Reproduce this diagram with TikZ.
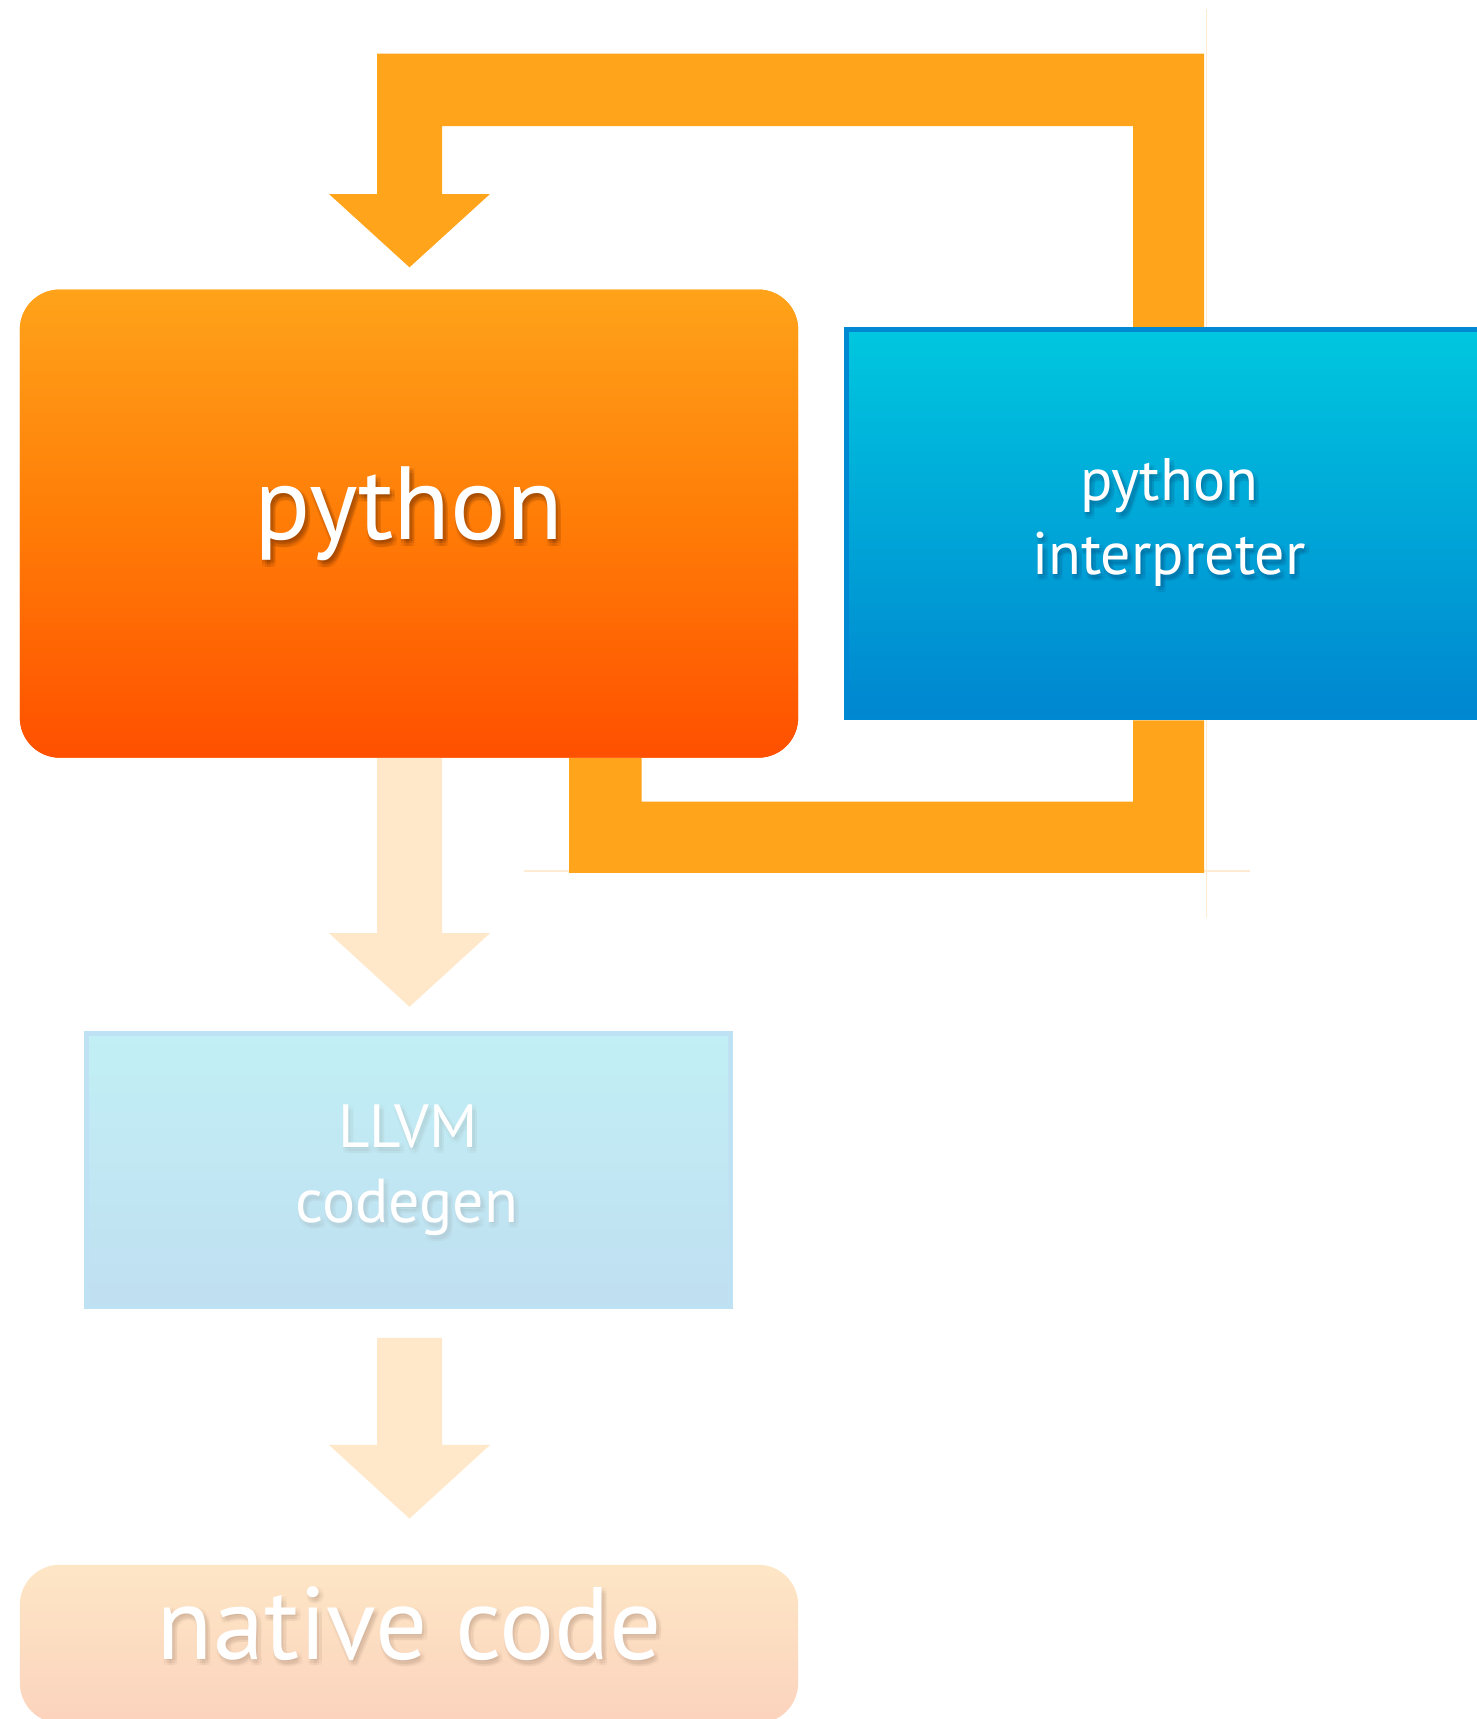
\documentclass[tikz,border=0pt]{standalone}
\usepackage{fontspec}
\setmainfont{PT Sans}
\usetikzlibrary{calc}

\definecolor{loopOrange}{HTML}{FFA41B}
\definecolor{paleArrow}{HTML}{FFE8C9}
\definecolor{guide}{HTML}{FFEBD3}
\definecolor{pyTop}{HTML}{FFA31A}
\definecolor{pyMid}{HTML}{FF7C07}
\definecolor{pyBot}{HTML}{FF5000}
\definecolor{interpTop}{HTML}{00C7DF}
\definecolor{interpBot}{HTML}{0086D0}
\definecolor{interpEdge}{HTML}{0089D2}
\definecolor{llvmTop}{HTML}{C1EFF5}
\definecolor{llvmBot}{HTML}{C0DFF1}
\definecolor{llvmEdge}{HTML}{BEE1F3}
\definecolor{natTop}{HTML}{FDE6C5}
\definecolor{natBot}{HTML}{FCD3BE}
\definecolor{pyShade}{HTML}{6A2A00}
\definecolor{blueShade}{HTML}{003060}
\definecolor{paleShade}{HTML}{806050}

\tikzset{
  loopfill/.style={fill=loopOrange},
  palefill/.style={fill=paleArrow},
  guideline/.style={draw=guide, line width=1.5pt},
  labeltext/.style={text=white, inner sep=0pt, anchor=base},
  pybox/.style={rectangle, rounded corners=40pt, inner sep=0pt,
    minimum width=778.3pt, minimum height=468.2pt,
    top color=pyTop, bottom color=pyBot, middle color=pyMid},
  interpbox/.style={rectangle, draw=interpEdge, line width=5pt, inner sep=0pt,
    minimum width=645pt, minimum height=388.6pt,
    top color=interpTop, bottom color=interpBot},
  llvmbox/.style={rectangle, draw=llvmEdge, line width=5pt, inner sep=0pt,
    minimum width=643.1pt, minimum height=273.5pt,
    top color=llvmTop, bottom color=llvmBot},
  natbox/.style={rectangle, rounded corners=40pt, inner sep=0pt,
    minimum width=778.3pt, minimum height=158.3pt,
    top color=natTop, bottom color=natBot},
}

% downward block arrow: #1 start of shaft, #2 tip, #3 fill style
\newcommand\blockdown[3]{%
  \fill[#3] let \p1=(#1), \p2=(#2) in
    (\x1-32.5pt,\y1) -- (\x1-32.5pt,\y2+73.6pt) -- (\x1-80.5pt,\y2+73.6pt)
    -- (\x2,\y2) -- (\x1+80.5pt,\y2+73.6pt) -- (\x1+32.5pt,\y2+73.6pt)
    -- (\x1+32.5pt,\y1) -- cycle;}

% white label with a soft drop shadow:
% name, base point, size, text, shadow colour, shadow opacity
\newcommand\softlabel[6]{%
  \foreach \dx in {-2.5,0,2.5}{\foreach \dy in {-2.5,0,2.5}{%
    \node[labeltext, text=#5, text opacity=#6] (#1-sh\dx\dy)
      at ($(#2)+(\dx+2.5,\dy+4)$) {\fontsize{#3}{#3}\selectfont #4};}}%
  \node[labeltext] (#1) at (#2) {\fontsize{#3}{#3}\selectfont #4};%
}

\begin{document}
\begin{tikzpicture}[x=1pt,y=-1pt]
\path[use as bounding box] (0,0) rectangle (1477,1719);
\clip (0,0) rectangle (1477,1719);

% boxes are placed first so the connectors can refer to them
\node[pybox] (py) at (409,523.6) {};
\node[interpbox] (interp) at (1169,523.6) {};
\node[llvmbox] (llvm) at (408.5,1170) {};
\node[natbox] (nat) at (409,1643.9) {};

% faint guides behind the loop
\draw[guideline] (1206.5,9) -- (1206.5,918);
\draw[guideline] (524,871) -- (1250,871);

% feedback loop: interpreter back into python
\coordinate (toptip) at ($(py.north)+(0.5,-22)$);
\fill[loopfill] (1204,0 |- interp.north) -- (1204,53.7) -- (377,53.7) -- (377,194)
  -- (329,194) -- (toptip) -- (490,194) -- (442,194) -- (442,126) -- (1133,126)
  -- (1133,0 |- interp.north) -- cycle;

% python down to the interpreter
\fill[loopfill] (569,0 |- py.south) -- (569,872.8) -- (1204,872.8)
  -- (1204,0 |- interp.south) -- (1133,0 |- interp.south) -- (1133,801.5)
  -- (641.5,801.5) -- (641.5,0 |- py.south) -- cycle;

% pale compile path
\coordinate (a1start) at ($(py.south)+(0.5,0)$);
\coordinate (a1tip) at ($(llvm.north)+(1,-24)$);
\blockdown{a1start}{a1tip}{palefill}
\coordinate (a2start) at ($(llvm.south)+(1,28.5)$);
\coordinate (a2tip) at ($(nat.north)+(0.5,-46)$);
\blockdown{a2start}{a2tip}{palefill}

% redraw the boxes on top of the connectors
\node[pybox] (pyTopLayer) at (py) {};
\node[interpbox] (interpTopLayer) at (interp) {};

% labels
\softlabel{pylabel}{409,539.5}{104}{python}{pyShade}{0.09}
\softlabel{interpA}{1169,500.5}{60}{python}{blueShade}{0.06}
\softlabel{interpB}{1169,574}{60}{interpreter}{blueShade}{0.06}
\softlabel{llvmA}{408,1147}{61}{LLVM}{paleShade}{0.02}
\softlabel{llvmB}{407,1222}{62}{codegen}{paleShade}{0.02}
\softlabel{natlabel}{409.5,1659}{103}{native code}{paleShade}{0.04}
\end{tikzpicture}
\end{document}
